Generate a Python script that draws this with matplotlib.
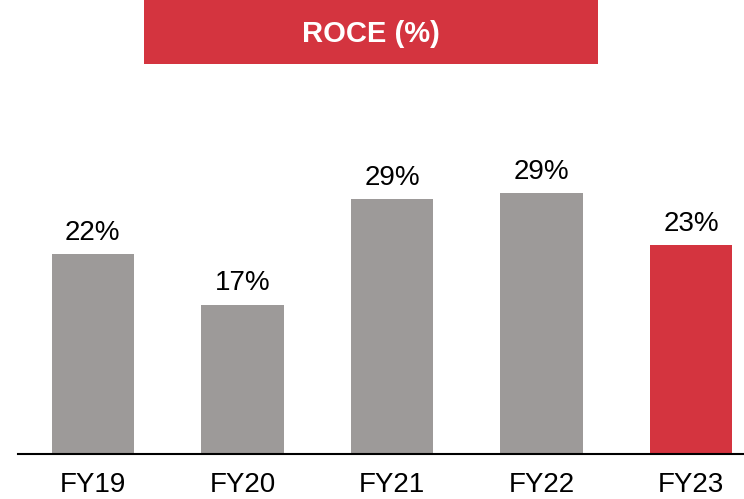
import matplotlib
matplotlib.use('Agg')
import matplotlib.pyplot as plt
from matplotlib.patches import Rectangle

# Data
years = ['FY19', 'FY20', 'FY21', 'FY22', 'FY23']
roce = [22.2, 16.6, 28.3, 29.0, 23.2]
labels = ['22%', '17%', '29%', '29%', '23%']

grey = '#9D9A99'
red = '#D4343F'
colors = [grey, grey, grey, grey, red]

plt.rcParams['font.family'] = ['Liberation Sans', 'DejaVu Sans']

fig = plt.figure(figsize=(7.44, 4.99), dpi=100)
ax = fig.add_axes([18 / 744, 45 / 499, 726 / 744, 360 / 499])

x = range(len(years))
ax.bar(x, roce, width=0.55, color=colors)

# Value labels above bars
for xi, v, lab in zip(x, roce, labels):
    ax.annotate(lab, (xi, v), xytext=(0, 6), textcoords='offset points',
                ha='center', va='bottom', fontsize=20, color='black')

ax.set_xlim(-0.5, 4.353)
ax.set_ylim(0, 40)
ax.set_xticks(list(x))
ax.set_xticklabels(years, fontsize=20)
ax.tick_params(axis='x', length=0, pad=13)
ax.set_yticks([])
for side in ['left', 'right', 'top']:
    ax.spines[side].set_visible(False)
ax.spines['bottom'].set_linewidth(1.5)

# Red title banner
fig.patches.append(Rectangle((144 / 744, 435 / 499), 454 / 744, 64 / 499,
                             transform=fig.transFigure, facecolor=red,
                             edgecolor='none'))
fig.text(371 / 744, 465 / 499, 'ROCE (%)', color='white', fontsize=21,
         fontweight='bold', ha='center', va='center')

fig.savefig('out.png', dpi=100)
